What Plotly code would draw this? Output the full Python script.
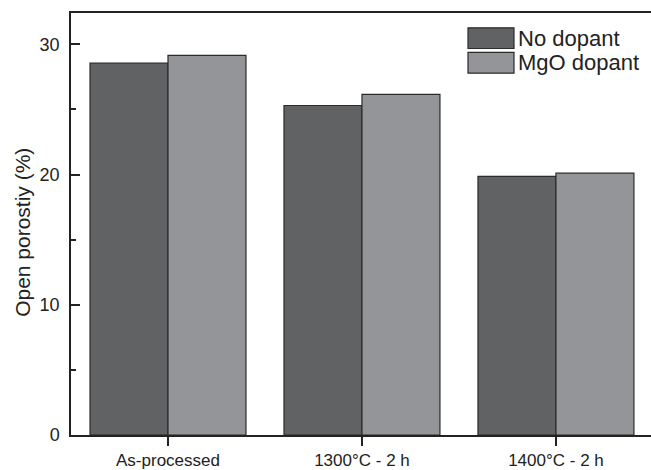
import plotly.graph_objects as go

# Open porosity of samples, by heat treatment
categories = ["As-processed", "1300°C - 2 h", "1400°C - 2 h"]
no_dopant = [28.55, 25.3, 19.85]
mgo_dopant = [29.15, 26.15, 20.1]
series_names = ["No dopant", "MgO dopant"]
y_ticks = [0, 10, 20, 30]
y_title = "Open porostiy (%)"

dark = "#616264"
light = "#949598"
edge = "#2b2b2b"
ink = "#222222"
font_family = "Liberation Sans, Arial, sans-serif"

# plot-area geometry in pixels
L, R, T, B = 71, 0, 13, 29
W, H = 651, 470
PW, PH = W - L - R, H - T - B

fig = go.Figure()
fig.add_trace(go.Bar(x=categories, y=no_dopant, name=series_names[0],
                     marker=dict(color=dark, line=dict(color=edge, width=1.2))))
fig.add_trace(go.Bar(x=categories, y=mgo_dopant, name=series_names[1],
                     marker=dict(color=light, line=dict(color=edge, width=1.2))))

fig.update_layout(
    width=W, height=H,
    margin=dict(l=L, r=R, t=T, b=B),
    paper_bgcolor="white", plot_bgcolor="white",
    barmode="group", bargap=0.196, bargroupgap=0,
    showlegend=False,
    font=dict(family=font_family, size=17, color=ink),
)

fig.update_xaxes(
    range=[-0.5, 2.49],
    showline=True, linecolor=ink, linewidth=1.5, mirror=True,
    ticks="outside", ticklen=9, tickwidth=1.5, tickcolor=ink,
    showgrid=False, tickfont=dict(size=17),
)
fig.update_yaxes(
    range=[0, 32.4],
    tickvals=y_ticks, ticktext=[str(v) for v in y_ticks],
    showline=True, linecolor=ink, linewidth=1.5,
    ticks="inside", ticklen=9, tickwidth=1.5, tickcolor=ink,
    minor=dict(dtick=5, tick0=0, ticks="inside", ticklen=5, tickwidth=1.5,
               tickcolor=ink, showgrid=False),
    showgrid=False, zeroline=False,
    ticklabelstandoff=6, tickfont=dict(size=18),
)

# y-axis title as a rotated annotation
fig.add_annotation(xref="paper", yref="paper",
                   x=(23 - L) / PW, y=(H - B - 236) / PH,
                   text=y_title, textangle=-90, showarrow=False,
                   xanchor="center", yanchor="middle",
                   font=dict(size=21, color=ink))

# Legend with large swatches
legend_entries = [(series_names[0], dark), (series_names[1], light)]
x0_px, w_px, h_px = 468, 46, 21
y_tops = [28, 53]
for (label, color), top in zip(legend_entries, y_tops):
    fig.add_shape(type="rect", xref="paper", yref="paper",
                  x0=(x0_px - L) / PW, x1=(x0_px + w_px - L) / PW,
                  y0=(H - B - (top + h_px)) / PH, y1=(H - B - top) / PH,
                  fillcolor=color, line=dict(color=edge, width=1.2))
    fig.add_annotation(xref="paper", yref="paper",
                       x=(x0_px + w_px + 2 - L) / PW,
                       y=(H - B - (top + h_px / 2)) / PH,
                       text=label, showarrow=False, xanchor="left", yanchor="middle",
                       font=dict(size=22, color=ink))

fig.write_html("out.html")
